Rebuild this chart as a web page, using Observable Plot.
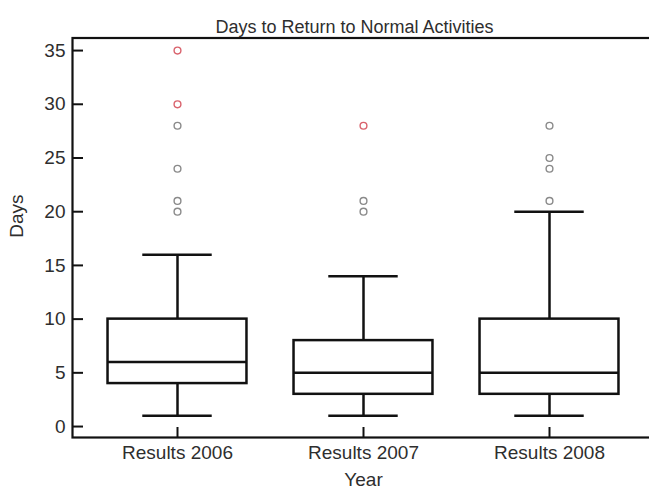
<!DOCTYPE html>
<html>
<head>
<meta charset="utf-8">
<script src="https://cdn.jsdelivr.net/npm/d3@7"></script>
<script src="https://cdn.jsdelivr.net/npm/@observablehq/plot@0.6"></script>
<style>
  html, body { margin: 0; padding: 0; background: #fff; }
  #chart svg { display: block; }
</style>
</head>
<body>
<div id="chart"></div>
<script>
// ---- data ----
const years = ["Results 2006", "Results 2007", "Results 2008"];
const whiskerLow = [1, 1, 1];
const q1 = [4, 3, 3];
const median = [6, 5, 5];
const q3 = [10, 8, 10];
const whiskerHigh = [16, 14, 20];
const outliers = [[20, 21, 24, 28], [20, 21], [21, 24, 25, 28]];
const extremes = [[30, 35], [28], []];
const yTicks = [0, 5, 10, 15, 20, 25, 30, 35];
const title = "Days to Return to Normal Activities";
const xLabel = "Year";
const yLabel = "Days";

// ---- tables built from the arrays ----
const boxes = years.map((y, i) => ({
  year: y, lo: whiskerLow[i], q1: q1[i], med: median[i], q3: q3[i], hi: whiskerHigh[i]
}));
const outPts = years.flatMap((y, i) => outliers[i].map(v => ({year: y, v})));
const extPts = years.flatMap((y, i) => extremes[i].map(v => ({year: y, v})));

const ink = "#111";
const textColor = "#2e2e2e";
const lw = 2.5;

const chart = Plot.plot({
  width: 649,
  height: 489,
  marginLeft: 72,
  marginRight: -5,
  marginTop: 37.5,
  marginBottom: 52,
  style: {fontFamily: "'Liberation Sans', Arial, sans-serif", color: textColor, background: "#fff"},
  x: {type: "band", domain: years, paddingInner: 0.253, paddingOuter: 0.191, round: false},
  y: {domain: [-1.02, 36.17]},
  marks: [
    Plot.frame({stroke: ink, strokeWidth: 2.2}),
    // whiskers
    Plot.ruleX(boxes, {x: "year", y1: "q3", y2: "hi", stroke: ink, strokeWidth: lw}),
    Plot.ruleX(boxes, {x: "year", y1: "lo", y2: "q1", stroke: ink, strokeWidth: lw}),
    // caps
    Plot.tickY(boxes, {x: "year", y: "hi", stroke: ink, strokeWidth: lw, inset: 34.75}),
    Plot.tickY(boxes, {x: "year", y: "lo", stroke: ink, strokeWidth: lw, inset: 34.75}),
    // boxes
    Plot.barY(boxes, {x: "year", y1: "q1", y2: "q3", fill: "white", stroke: ink, strokeWidth: lw}),
    // medians
    Plot.tickY(boxes, {x: "year", y: "med", stroke: ink, strokeWidth: lw}),
    // outliers
    Plot.dot(outPts, {x: "year", y: "v", r: 3.4, stroke: "#8a8a8a", strokeWidth: 1.4, fill: "none"}),
    Plot.dot(extPts, {x: "year", y: "v", r: 3.4, stroke: "#d9626c", strokeWidth: 1.4, fill: "none"}),
    // axes
    Plot.axisY({ticks: yTicks, tickSize: -11, tickPadding: 18, fontSize: 19, label: null, stroke: ink, strokeWidth: 2, fill: textColor}),
    Plot.axisX({tickSize: -10, tickPadding: 18, fontSize: 19, label: null, stroke: ink, strokeWidth: 2, fill: textColor}),
    // labels
    Plot.text([title], {frameAnchor: "top", dy: -17.5, dx: -9, fontSize: 18, fill: textColor}),
    Plot.text([xLabel], {frameAnchor: "bottom", dy: 48, fontSize: 19, fill: textColor}),
    Plot.text([yLabel], {frameAnchor: "left", dx: -55.5, rotate: -90, fontSize: 19, fill: textColor})
  ]
});
document.getElementById("chart").appendChild(chart);
</script>
</body>
</html>
